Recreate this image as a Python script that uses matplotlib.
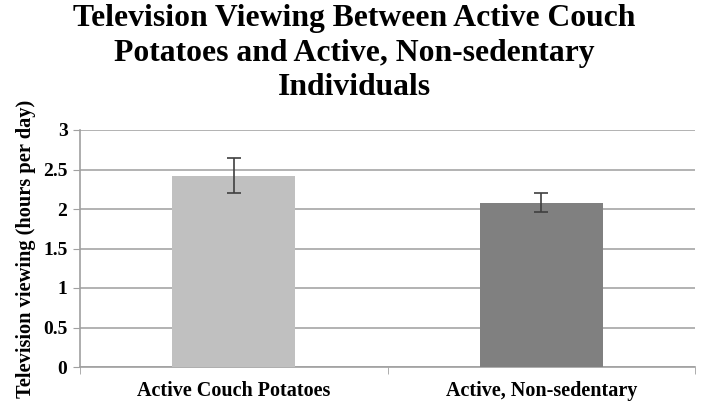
import matplotlib
matplotlib.use("Agg")
import matplotlib.pyplot as plt

categories = ["Active Couch Potatoes", "Active, Non-sedentary"]
values = [2.42, 2.08]
errors = [0.22, 0.12]
colors = ["#C0C0C0", "#808080"]

plt.rcParams["font.family"] = ["Liberation Serif", "DejaVu Serif"]
plt.rcParams["font.weight"] = "bold"

fig = plt.figure(figsize=(7.01, 4.04), dpi=100)
ax = fig.add_axes([80 / 701, 1 - 367 / 404, 615 / 701, 237 / 404])

x = [0, 1]
ax.bar(x, values, width=0.40, color=colors, zorder=3,
       yerr=errors, capsize=5, error_kw=dict(ecolor="#404040", elinewidth=1.2, capthick=1.2, zorder=4))

ax.set_xlim(-0.5, 1.5)
ax.set_ylim(0, 3)
ax.set_yticks([0, 0.5, 1, 1.5, 2, 2.5, 3])
ax.set_yticklabels(["0", "0.5", "1", "1.5", "2", "2.5", "3"])
ax.set_xticks(x)
ax.set_xticklabels(categories)
ax.set_xticks([-0.5, 0.5, 1.5], minor=True)
ax.tick_params(axis="x", which="major", length=0, pad=10, labelsize=14.5)
ax.tick_params(axis="x", which="minor", length=5, color="#A0A0A0")
ax.tick_params(axis="y", length=5, color="#A0A0A0", labelsize=14, pad=4)
ax.grid(axis="y", color="#A6A6A6", linewidth=1.2, zorder=0)

for s in ["top", "right"]:
    ax.spines[s].set_visible(False)
for s in ["left", "bottom"]:
    ax.spines[s].set_color("#A0A0A0")
    ax.spines[s].set_linewidth(1.2)

ax.set_ylabel("Television viewing (hours per day)", fontsize=14.7, fontweight="bold", labelpad=5)

fig.text(0.505, 0.99,
         "Television Viewing Between Active Couch\nPotatoes and Active, Non-sedentary\nIndividuals",
         ha="center", va="top", fontsize=22.8, fontweight="bold", linespacing=1.25)

fig.savefig("out.png", dpi=100)
